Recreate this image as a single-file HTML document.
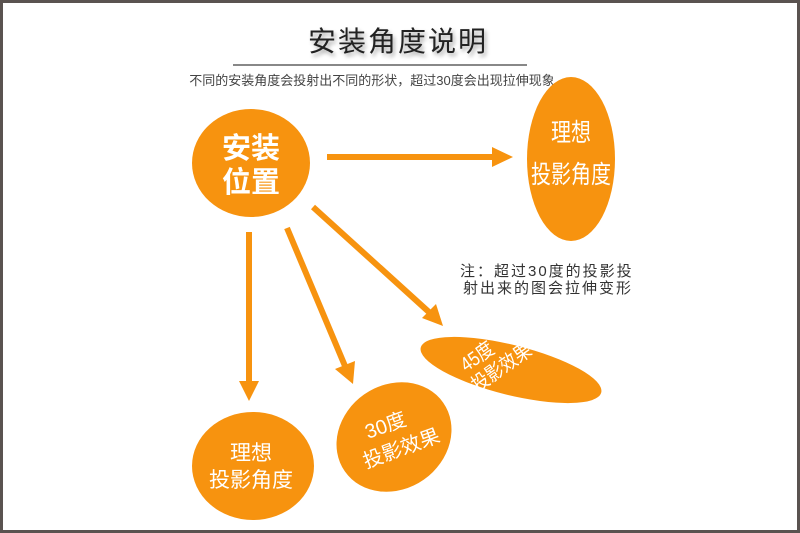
<!DOCTYPE html>
<html><head><meta charset="utf-8"><style>
html,body{margin:0;padding:0;background:#fff}
svg{display:block}
text{font-family:"Liberation Sans","Noto Sans CJK SC",sans-serif}
</style></head><body>
<svg width="800" height="533" viewBox="0 0 800 533" xmlns="http://www.w3.org/2000/svg">
<defs><filter id="sh" x="-10%" y="-30%" width="120%" height="160%"><feGaussianBlur in="SourceAlpha" stdDeviation="2"/><feOffset dx="2" dy="3"/><feComponentTransfer><feFuncA type="linear" slope="0.35"/></feComponentTransfer><feMerge><feMergeNode/><feMergeNode in="SourceGraphic"/></feMerge></filter></defs>
<rect x="1.5" y="1.5" width="797" height="530" fill="#fff" stroke="#5a5350" stroke-width="3"/>
<text x="398" y="51" font-size="28" text-anchor="middle" fill="#222" filter="url(#sh)" letter-spacing="2">安装角度说明</text>
<line x1="233" y1="65" x2="527" y2="65" stroke="#111" stroke-width="1"/>
<text x="372" y="85" font-size="13" text-anchor="middle" fill="#444">不同的安装角度会投射出不同的形状，超过30度会出现拉伸现象</text>
<g fill="#f7930f">
<ellipse cx="251" cy="163" rx="59" ry="54"/>
<ellipse cx="571" cy="159" rx="44" ry="82"/>
<ellipse cx="253" cy="466" rx="61" ry="54"/>
<ellipse cx="394" cy="437" rx="60" ry="52" transform="rotate(-35 394 437)"/>
<ellipse cx="511" cy="370" rx="93" ry="25" transform="rotate(14 511 370)"/>
</g>
<g stroke="#f7930f" stroke-width="6" fill="none">
<line x1="327" y1="157" x2="496" y2="157"/>
<line x1="249" y1="232" x2="249" y2="384"/>
<line x1="287" y1="228" x2="345" y2="366"/>
<line x1="313" y1="207" x2="430" y2="313"/>
</g>
<g fill="#f7930f">
<polygon points="492,147 513,157 492,167"/>
<polygon points="239,381 259,381 249,401"/>
<polygon points="335,369 355,361 353,384"/>
<polygon points="422,318 436,304 443,326"/>
</g>
<g fill="#fff" text-anchor="middle">
<text x="251" y="158" font-size="29" font-weight="bold">安装</text>
<text x="251" y="192" font-size="29" font-weight="bold">位置</text>
<g transform="translate(571 0) scale(0.8 1)">
<text x="0" y="141" font-size="25">理想</text>
<text x="0" y="183" font-size="25">投影角度</text>
</g>
<text x="251" y="460" font-size="21">理想</text>
<text x="251" y="487" font-size="21">投影角度</text>
<g transform="rotate(-20 394 437)">
<text x="390" y="430" font-size="20">30度</text>
<text x="397" y="457" font-size="20">投影效果</text>
</g>
<g transform="translate(490 363) rotate(-35) scale(0.85 1)">
<text x="-8" y="-6" font-size="20">45度</text>
<text x="8" y="17" font-size="20">投影效果</text>
</g>
</g>
<text x="460" y="276" font-size="15" fill="#333" letter-spacing="2">注：超过30度的投影投</text>
<text x="463" y="293" font-size="15" fill="#333" letter-spacing="2">射出来的图会拉伸变形</text>
</svg>
</body></html>
